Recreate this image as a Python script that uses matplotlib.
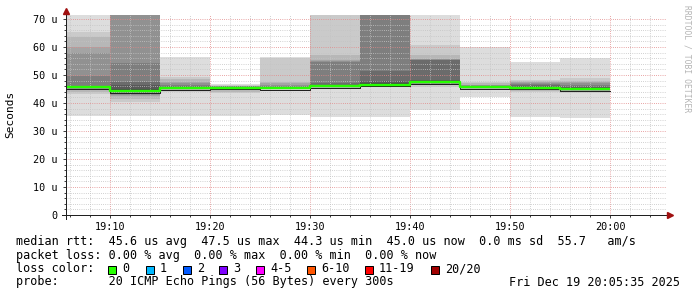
import matplotlib
matplotlib.use("Agg")
import matplotlib.pyplot as plt
from matplotlib.patches import Rectangle
from matplotlib.ticker import MultipleLocator, FuncFormatter
import numpy as np

W, H = 697, 297
PX = 0.72  # points per pixel at dpi 100

# ---------------- data ----------------
window_start = "19:05:35"
window_end = "20:05:35"
interval_starts = ["19:05", "19:10", "19:15", "19:20", "19:25", "19:30",
                   "19:35", "19:40", "19:45", "19:50", "19:55"]
data_end = "20:00"
x_tick_labels = ["19:10", "19:20", "19:30", "19:40", "19:50", "20:00"]

# 20 sorted ping round-trip times per 5-minute interval (microseconds)
pings_0 = [35.4, 43.2, 44.0, 44.6, 45.0, 45.2, 45.3, 45.4, 45.5, 45.6,
           45.7, 45.7, 45.8, 46.1, 49.8, 58.0, 60.1, 63.7, 65.5, 80.0]
pings_1 = [35.4, 40.5, 41.5, 42.5, 43.0, 43.5, 43.8, 44.0, 44.2, 44.3,
           44.4, 45.0, 46.5, 47.6, 54.4, 75.0, 80.0, 85.0, 90.0, 100.0]
pings_2 = [35.4, 44.0, 44.6, 44.9, 45.0, 45.1, 45.15, 45.2, 45.25, 45.3,
           45.35, 45.4, 45.6, 46.1, 46.6, 47.0, 47.6, 48.5, 49.4, 56.5]
pings_3 = [35.4, 43.5, 44.0, 44.6, 45.0, 45.1, 45.2, 45.3, 45.4, 45.5,
           45.5, 45.6, 45.7, 45.8, 45.9, 46.0, 46.1, 46.2, 46.4, 46.8]
pings_4 = [35.7, 45.0, 45.05, 45.1, 45.12, 45.15, 45.2, 45.22, 45.25, 45.3,
           45.3, 45.4, 45.5, 45.7, 46.0, 46.5, 47.2, 47.6, 56.0, 56.3]
pings_5 = [35.1, 45.3, 45.5, 45.6, 45.7, 45.8, 45.85, 45.9, 45.95, 46.0,
           46.1, 46.3, 46.6, 47.0, 54.8, 55.0, 55.2, 57.1, 75.0, 90.0]
pings_6 = [35.1, 45.6, 45.8, 45.9, 46.0, 46.1, 46.2, 46.3, 46.4, 46.5,
           46.6, 47.0, 48.0, 51.4, 73.0, 76.0, 80.0, 85.0, 90.0, 95.0]
pings_7 = [37.5, 45.6, 46.4, 46.6, 46.8, 47.0, 47.1, 47.2, 47.3, 47.5,
           47.7, 48.0, 48.3, 55.4, 55.5, 55.6, 55.7, 57.1, 60.7, 80.0]
pings_8 = [42.2, 44.6, 45.0, 45.2, 45.3, 45.4, 45.45, 45.5, 45.55, 45.6,
           45.8, 45.9, 46.0, 46.1, 46.2, 46.3, 46.5, 47.0, 47.6, 60.0]
pings_9 = [35.1, 43.8, 44.3, 44.7, 44.9, 45.0, 45.1, 45.2, 45.3, 45.4,
           45.5, 45.7, 46.0, 46.4, 46.8, 47.0, 47.5, 48.0, 48.2, 54.8]
pings_10 = [34.8, 43.5, 43.9, 44.3, 44.6, 44.8, 44.9, 45.0, 45.0, 45.0,
            45.1, 45.3, 45.6, 46.0, 46.4, 47.0, 47.5, 48.0, 48.8, 56.0]
pings = [pings_0, pings_1, pings_2, pings_3, pings_4, pings_5,
         pings_6, pings_7, pings_8, pings_9, pings_10]

median_us = [45.6, 44.3, 45.3, 45.5, 45.3, 46.0, 46.5, 47.5, 45.7, 45.4, 45.0]

legend_rtt = "median rtt:  45.6 us avg  47.5 us max  44.3 us min  45.0 us now  0.0 ms sd  55.7   am/s"
legend_loss = "packet loss: 0.00 % avg  0.00 % max  0.00 % min  0.00 % now"
legend_probe = "probe:       20 ICMP Echo Pings (56 Bytes) every 300s"
legend_date = "Fri Dec 19 20:05:35 2025"
loss_labels = ["0", "1", "2", "3", "4-5", "6-10", "11-19", "20/20"]
loss_colors = ["#26ff00", "#00b8ff", "#0059ff", "#7e00ff", "#ff00ff",
               "#ff5500", "#ff0000", "#a00000"]
y_max_us = 71.43


def to_min(s):
    parts = [int(p) for p in s.split(":")]
    h, m = parts[0], parts[1]
    sec = parts[2] if len(parts) > 2 else 0
    return (h - 19) * 60 + m + sec / 60.0


# ---------------- figure ----------------
plt.rcParams['font.family'] = ['DejaVu Sans Mono']
fig = plt.figure(figsize=(W / 100, H / 100), dpi=100, facecolor="white")
ax = fig.add_axes([66 / W, 1 - 215 / H, 600 / W, 200 / H])
ax.set_facecolor("white")

x0 = to_min(window_start)
x1 = to_min(window_end)
edges = [max(to_min(s), x0) for s in interval_starts] + [to_min(data_end)]

# smoke bands (smokeping style)
n = 20
half = n // 2
for i in range(half):
    gray = int(190 / half * (half - (i + 1))) + 50
    col = "#%02x%02x%02x" % (gray, gray, gray)
    lo = [p[i] for p in pings]
    hi = [p[n - 1 - i] for p in pings]
    lo = lo + [lo[-1]]
    hi = hi + [hi[-1]]
    ax.fill_between(edges, lo, hi, step="post", color=col, lw=0, zorder=1)

# median line
med = median_us + [median_us[-1]]
med_dark = [m - 0.55 for m in med]
ax.plot(edges, med_dark, drawstyle="steps-post", color="#202020", lw=1 * PX, zorder=3)
ax.plot(edges, med, drawstyle="steps-post", color="#26ff00", lw=2.4 * PX, zorder=4,
        solid_capstyle="butt")

ax.set_xlim(x0, x1)
ax.set_ylim(0, y_max_us)

ax.set_xticks([to_min(t) for t in x_tick_labels])
ax.set_xticklabels(x_tick_labels)
ax.xaxis.set_minor_locator(MultipleLocator(2))
ax.yaxis.set_major_locator(MultipleLocator(10))
ax.yaxis.set_minor_locator(MultipleLocator(2))
ax.yaxis.set_major_formatter(FuncFormatter(lambda v, p: "0" if v == 0 else "%d u" % v))

ax.set_axisbelow(False)
ax.grid(which="minor", color="#c4c4c4", lw=1 * PX, linestyle=(0, (1 * PX, 2 * PX)), zorder=2.5)
ax.grid(which="major", color="#e28a8a", lw=1 * PX, linestyle=(0, (1 * PX, 2 * PX)), zorder=2.6)

ax.tick_params(which="major", direction="out", length=3 * PX, width=1 * PX,
               color="#404040", labelsize=7.3, pad=3)
ax.tick_params(which="minor", direction="out", length=2 * PX, width=1 * PX, color="#404040")
ax.tick_params(axis="x", which="major", pad=3)
ax.tick_params(axis="y", which="major", pad=4)

for s in ax.spines.values():
    s.set_visible(False)

# axis lines with arrows
ax.plot([-4 / 600, 668 / 600 - 66 / 600 + 0.0], [0, 0], transform=ax.transAxes,
        color="#202020", lw=1 * PX, clip_on=False, zorder=5)
ax.plot([0, 0], [-4 / 200, 203 / 200], transform=ax.transAxes,
        color="#202020", lw=1 * PX, clip_on=False, zorder=5)
ax.plot([(670 - 66) / 600], [0], transform=ax.transAxes, marker=">", ms=4.5,
        color="#a01010", mec="#a01010", clip_on=False, zorder=6)
ax.plot([0], [(215 - 10.5) / 200], transform=ax.transAxes, marker="^", ms=4.5,
        color="#a01010", mec="#a01010", clip_on=False, zorder=6)


def fy(y):
    return 1 - y / H


fig.text(10 / W, fy(114), "Seconds", rotation=90, ha="center", va="center", fontsize=8)
fig.text(687 / W, fy(5), "RRDTOOL / TOBI OETIKER", rotation=270, ha="center", va="top",
         fontsize=5.8, color="#b4b4b4")

fs = 8.5
fig.text(16 / W, fy(241), legend_rtt, ha="left", va="center", fontsize=fs)
fig.text(16 / W, fy(255), legend_loss, ha="left", va="center", fontsize=fs)
fig.text(16 / W, fy(268.5), "loss color:", ha="left", va="center", fontsize=fs)
fig.text(16 / W, fy(282), legend_probe, ha="left", va="center", fontsize=fs)
fig.text(680 / W, fy(282), legend_date, ha="right", va="center", fontsize=fs)

box_x = [108.3, 145.7, 182.7, 219.3, 256, 307.3, 365, 430.7]
for bx, lab, col in zip(box_x, loss_labels, loss_colors):
    fig.add_artist(Rectangle((bx / W, fy(274)), 8 / W, 8 / H, transform=fig.transFigure,
                             facecolor=col, edgecolor="black", lw=1 * PX))
    fig.text((bx + 14) / W, fy(268.5), lab, ha="left", va="center", fontsize=fs)

fig.savefig("out.png", dpi=100, facecolor="white")
